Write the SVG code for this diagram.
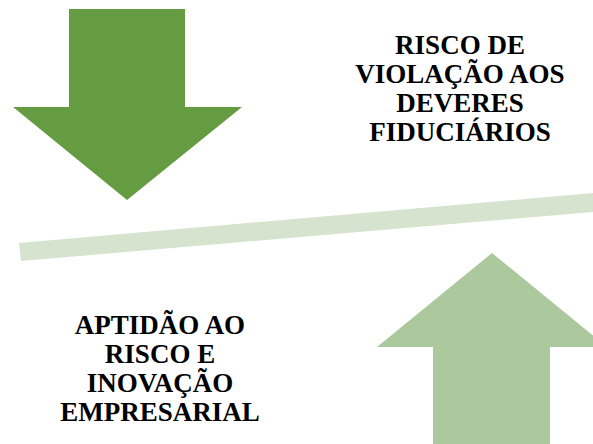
<svg xmlns="http://www.w3.org/2000/svg" width="593" height="444" viewBox="0 0 593 444">
<style>
.t{font-family:"Liberation Serif","Times New Roman",serif;font-weight:bold;font-size:27px;fill:#000;text-anchor:middle}
</style>
<rect width="593" height="444" fill="#fff"/>
<g id="arrow-down"><polygon points="69,9 185,9 185,107 242,107 127,200 13,107 69,107" fill="#669c41"/></g>
<g id="balance-bar"><polygon points="19,243 593,193 593,212 21,261" fill="#d6e3cf"/></g>
<g id="arrow-up"><polygon points="492,253 607,347 550,347 550,444 433,444 433,347 377,347" fill="#abc99d"/></g>
<g id="label-top">
<text class="t" x="460" y="54">RISCO DE</text>
<text class="t" x="460" y="83">VIOLAÇÃO AOS</text>
<text class="t" x="460" y="112">DEVERES</text>
<text class="t" x="460" y="141">FIDUCIÁRIOS</text>
</g>
<g id="label-bottom">
<text class="t" x="160" y="334">APTIDÃO AO</text>
<text class="t" x="160" y="363">RISCO E</text>
<text class="t" x="160" y="392">INOVAÇÃO</text>
<text class="t" x="160" y="421">EMPRESARIAL</text>
</g>
</svg>
